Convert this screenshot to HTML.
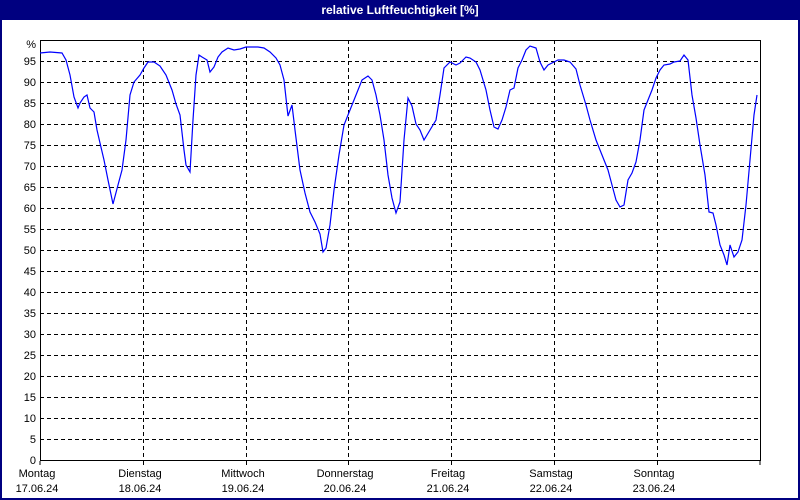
<!DOCTYPE html>
<html><head><meta charset="utf-8"><style>
html,body{margin:0;padding:0;background:#fff;}
svg{display:block;font-family:"Liberation Sans",Verdana,sans-serif;}
</style></head><body>
<svg width="800" height="500" xmlns="http://www.w3.org/2000/svg">
<rect x="0" y="0" width="800" height="500" fill="#000080"/>
<rect x="2" y="20" width="796" height="478" fill="#fff"/>
<text x="400" y="14" fill="#fff" font-size="12" font-weight="bold" text-anchor="middle">relative Luftfeuchtigkeit [%]</text>
<g stroke="#000" stroke-width="1" stroke-dasharray="4,3" fill="none">
<path d="M40 439.5H760M40 418.5H760M40 397.5H760M40 376.5H760M40 355.5H760M40 334.5H760M40 313.5H760M40 292.5H760M40 271.5H760M40 250.5H760M40 229.5H760M40 208.5H760M40 187.5H760M40 166.5H760M40 145.5H760M40 124.5H760M40 103.5H760M40 82.5H760M40 61.5H760"/>
<path d="M143.5 40V460M246.5 40V460M348.5 40V460M451.5 40V460M554.5 40V460M657.5 40V460"/>
</g>
<rect x="40.5" y="40.5" width="720" height="420" fill="none" stroke="#000" stroke-width="1"/>
<path d="M40 461v4M143.5 461v4M246.5 461v4M348.5 461v4M451.5 461v4M554.5 461v4M657.5 461v4M760 461v4" stroke="#000"/>
<g font-size="11" fill="#000" text-anchor="end">
<text x="36" y="48">%</text>
<text x="36" y="65">95</text><text x="36" y="86">90</text><text x="36" y="107">85</text><text x="36" y="128">80</text><text x="36" y="149">75</text><text x="36" y="170">70</text><text x="36" y="191">65</text><text x="36" y="212">60</text><text x="36" y="233">55</text><text x="36" y="254">50</text><text x="36" y="275">45</text><text x="36" y="296">40</text><text x="36" y="317">35</text><text x="36" y="338">30</text><text x="36" y="359">25</text><text x="36" y="380">20</text><text x="36" y="401">15</text><text x="36" y="422">10</text><text x="36" y="443">5</text><text x="36" y="464">0</text>
</g>
<g font-size="11" fill="#000" text-anchor="middle">
<text x="37" y="477">Montag</text><text x="37" y="492">17.06.24</text>
<text x="140" y="477">Dienstag</text><text x="140" y="492">18.06.24</text>
<text x="243" y="477">Mittwoch</text><text x="243" y="492">19.06.24</text>
<text x="345" y="477">Donnerstag</text><text x="345" y="492">20.06.24</text>
<text x="448" y="477">Freitag</text><text x="448" y="492">21.06.24</text>
<text x="551" y="477">Samstag</text><text x="551" y="492">22.06.24</text>
<text x="654" y="477">Sonntag</text><text x="654" y="492">23.06.24</text>
</g>
<polyline fill="none" stroke="#0000ff" stroke-width="1.2" points="40,53 50,52 62,53 66,60 70,75 74,97 78,108 80,103 84,97 87,95 90,108 94,112 97,130 100,143 104,160 108,180 113,204 118,185 122,170 126,140 130,95 134,82 140,75 144,68 148,62 154,62 160,66 166,75 172,90 176,104 180,115 184,150 186,165 190,172 193,120 196,75 199,55 202,57 207,60 210,72 214,67 218,57 222,52 228,48 234,50 240,49 246,47 252,47 258,47 264,48 270,52 276,58 280,65 284,80 288,116 292,105 295,130 300,170 305,193 310,212 315,222 320,234 323,252 326,248 330,225 334,190 339,155 344,125 350,110 356,95 362,80 368,76 372,80 376,95 380,115 384,140 388,175 392,198 396,213 400,202 404,140 408,98 412,106 416,124 420,130 424,140 430,130 436,120 440,95 444,68 450,62 456,65 460,63 466,57 470,58 476,62 480,70 486,90 490,110 494,127 498,129 502,120 506,107 510,90 514,88 518,68 522,60 526,50 530,46 536,48 540,62 544,70 548,65 554,62 558,60 564,60 570,62 576,69 580,85 586,105 590,120 596,140 602,155 608,170 612,185 616,200 620,207 624,205 628,180 632,173 636,162 640,140 644,110 648,100 652,90 656,78 660,70 664,65 670,64 674,62 680,61 684,55 688,60 692,95 696,118 700,145 705,175 709,212 713,213 716,225 720,245 724,255 727,265 730,245 734,257 738,252 742,240 746,205 750,160 754,115 757,95"/>
</svg>
</body></html>
